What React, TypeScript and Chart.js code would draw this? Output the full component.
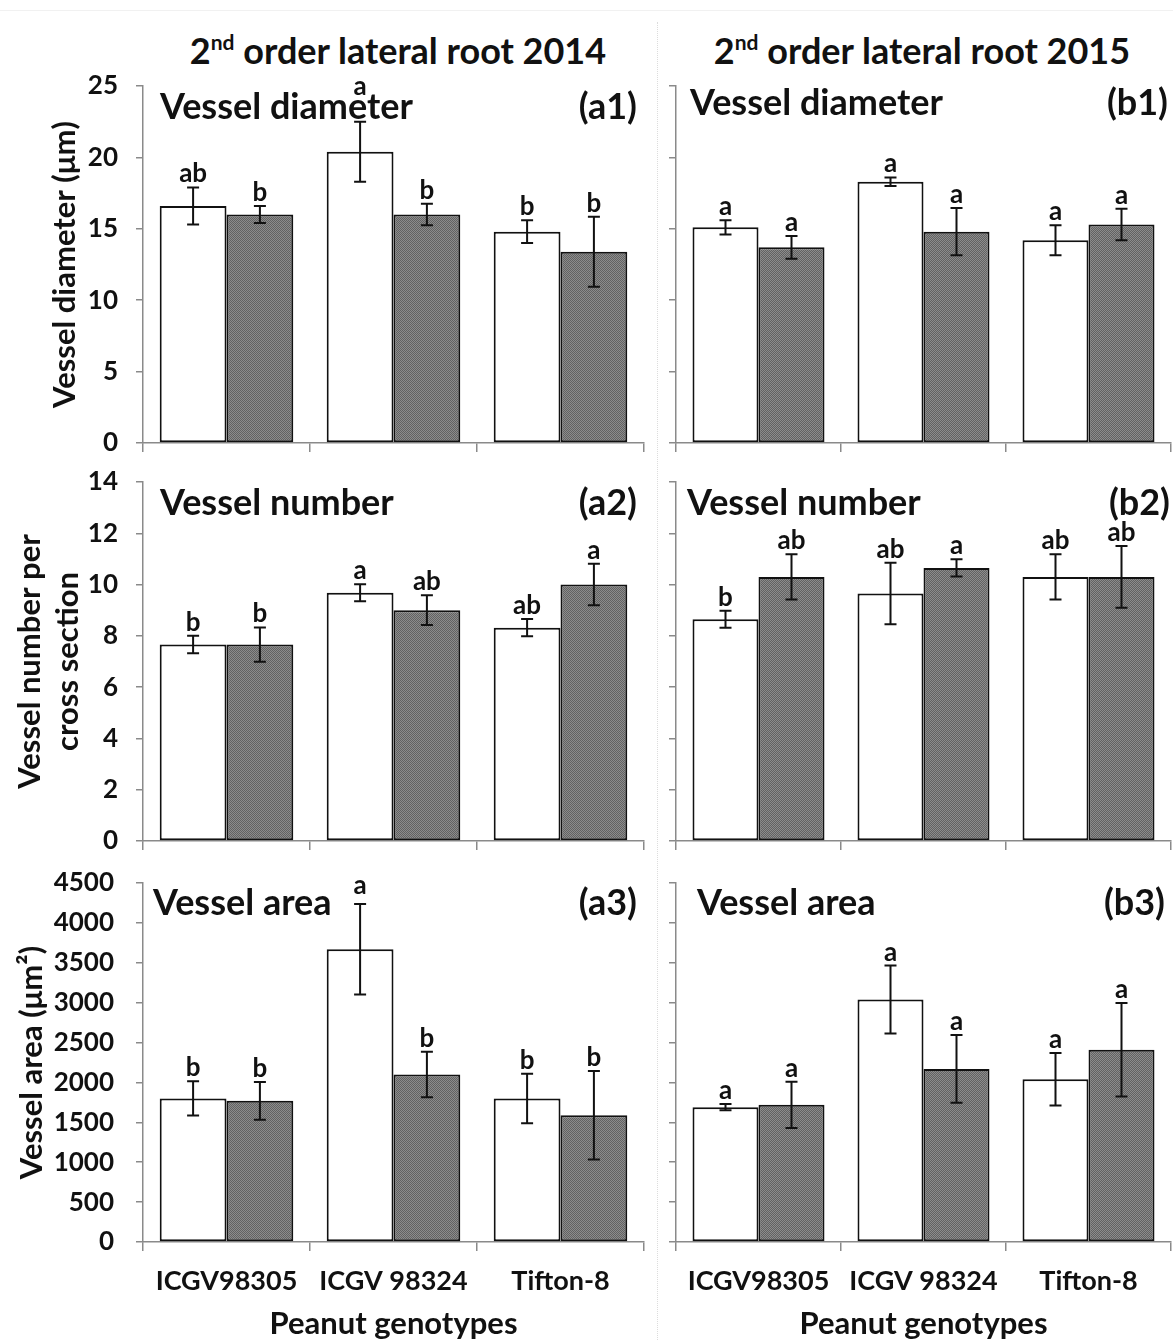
import React, { useEffect, useRef } from 'react';
import { Chart, registerables } from 'chart.js';

Chart.register(...registerables);

// ---------- data ----------
const categories = ['ICGV98305', 'ICGV 98324', 'Tifton-8'];

const diamTicks = [0, 5, 10, 15, 20, 25];
const numberTicks = [0, 2, 4, 6, 8, 10, 12, 14];
const areaTicks = [0, 500, 1000, 1500, 2000, 2500, 3000, 3500, 4000, 4500];

// (a1) vessel diameter 2014
const diam2014White = [16.6, 20.4, 14.8];
const diam2014WhiteErr = [1.3, 2.1, 0.8];
const diam2014Gray = [16.0, 16.0, 13.4];
const diam2014GrayErr = [0.6, 0.75, 2.45];
const diam2014WhiteLetters = ['ab', 'a', 'b'];
const diam2014GrayLetters = ['b', 'b', 'b'];

// (b1) vessel diameter 2015
const diam2015White = [15.1, 18.3, 14.2];
const diam2015WhiteErr = [0.5, 0.3, 1.05];
const diam2015Gray = [13.7, 14.8, 15.3];
const diam2015GrayErr = [0.8, 1.65, 1.1];
const diam2015WhiteLetters = ['a', 'a', 'a'];
const diam2015GrayLetters = ['a', 'a', 'a'];

// (a2) vessel number 2014
const num2014White = [7.66, 9.68, 8.32];
const num2014WhiteErr = [0.34, 0.33, 0.34];
const num2014Gray = [7.66, 9.0, 10.0];
const num2014GrayErr = [0.67, 0.58, 0.81];
const num2014WhiteLetters = ['b', 'a', 'ab'];
const num2014GrayLetters = ['b', 'ab', 'a'];

// (b2) vessel number 2015
const num2015White = [8.65, 9.65, 10.3];
const num2015WhiteErr = [0.33, 1.2, 0.88];
const num2015Gray = [10.3, 10.65, 10.3];
const num2015GrayErr = [0.88, 0.34, 1.2];
const num2015WhiteLetters = ['b', 'ab', 'ab'];
const num2015GrayLetters = ['ab', 'a', 'ab'];

// (a3) vessel area 2014
const area2014White = [1800, 3670, 1800];
const area2014WhiteErr = [215, 567, 310];
const area2014Gray = [1770, 2100, 1590];
const area2014GrayErr = [237, 285, 555];
const area2014WhiteLetters = ['b', 'a', 'b'];
const area2014GrayLetters = ['b', 'b', 'b'];

// (b3) vessel area 2015
const area2015White = [1690, 3040, 2040];
const area2015WhiteErr = [40, 425, 330];
const area2015Gray = [1720, 2170, 2410];
const area2015GrayErr = [290, 425, 585];
const area2015WhiteLetters = ['a', 'a', 'a'];
const area2015GrayLetters = ['a', 'a', 'a'];

// ---------- layout / style ----------
const FONT = 'Lato, "Open Sans", sans-serif';
const AXIS = '#8a8a8a';
const INK = '#111';

type Panel = {
  key: string;
  left: number; top: number; width: number; height: number;
  yWidth: number; padTop: number; padRight: number; xHeight: number;
  ticks: number[]; showYLabels: boolean; yTickPad: number;
  yTitle?: string | string[]; yTitlePad?: number;
  showXLabels: boolean;
  name: string; tag: string; nameDx: number; nameDy: number; tagDx: number;
  white: number[]; whiteErr: number[]; gray: number[]; grayErr: number[];
  whiteLetters: string[]; grayLetters: string[];
  lift?: Record<string, number>;
};

const LEFT_COL = { left: 0, width: 655, yWidth: 143, padRight: 11 };
const RIGHT_COL = { left: 655, width: 518, yWidth: 21, padRight: 2 };
const ROW1 = { top: 60, height: 400, padTop: 26, xHeight: 17 };
const ROW2 = { top: 460, height: 400, padTop: 22, xHeight: 19 };
const ROW3 = { top: 860, height: 480, padTop: 23, xHeight: 98 };

const panels: Panel[] = [
  {
    key: 'a1', ...LEFT_COL, ...ROW1, ticks: diamTicks, showYLabels: true, yTickPad: 18,
    yTitle: 'Vessel diameter (μm)', yTitlePad: 46, showXLabels: false,
    name: 'Vessel diameter', tag: '(a1)', nameDx: 17, nameDy: 21, tagDx: 7,
    white: diam2014White, whiteErr: diam2014WhiteErr, gray: diam2014Gray, grayErr: diam2014GrayErr,
    whiteLetters: diam2014WhiteLetters, grayLetters: diam2014GrayLetters, lift: { '0-1': 22 },
  },
  {
    key: 'b1', ...RIGHT_COL, ...ROW1, ticks: diamTicks, showYLabels: false, yTickPad: 0,
    showXLabels: false,
    name: 'Vessel diameter', tag: '(b1)', nameDx: 14, nameDy: 17, tagDx: 3,
    white: diam2015White, whiteErr: diam2015WhiteErr, gray: diam2015Gray, grayErr: diam2015GrayErr,
    whiteLetters: diam2015WhiteLetters, grayLetters: diam2015GrayLetters,
  },
  {
    key: 'a2', ...LEFT_COL, ...ROW2, ticks: numberTicks, showYLabels: true, yTickPad: 18,
    yTitle: ['Vessel number per', 'cross section'], yTitlePad: 11, showXLabels: false,
    name: 'Vessel number', tag: '(a2)', nameDx: 17, nameDy: 21, tagDx: 7,
    white: num2014White, whiteErr: num2014WhiteErr, gray: num2014Gray, grayErr: num2014GrayErr,
    whiteLetters: num2014WhiteLetters, grayLetters: num2014GrayLetters,
  },
  {
    key: 'b2', ...RIGHT_COL, ...ROW2, ticks: numberTicks, showYLabels: false, yTickPad: 0,
    showXLabels: false,
    name: 'Vessel number', tag: '(b2)', nameDx: 11, nameDy: 21, tagDx: 1,
    white: num2015White, whiteErr: num2015WhiteErr, gray: num2015Gray, grayErr: num2015GrayErr,
    whiteLetters: num2015WhiteLetters, grayLetters: num2015GrayLetters,
  },
  {
    key: 'a3', ...LEFT_COL, ...ROW3, ticks: areaTicks, showYLabels: true, yTickPad: 22,
    yTitle: 'Vessel area (μm²)', yTitlePad: 13, showXLabels: true,
    name: 'Vessel area', tag: '(a3)', nameDx: 10, nameDy: 20, tagDx: 7,
    white: area2014White, whiteErr: area2014WhiteErr, gray: area2014Gray, grayErr: area2014GrayErr,
    whiteLetters: area2014WhiteLetters, grayLetters: area2014GrayLetters, lift: { '0-1': 5 },
  },
  {
    key: 'b3', ...RIGHT_COL, ...ROW3, ticks: areaTicks, showYLabels: false, yTickPad: 0,
    showXLabels: true,
    name: 'Vessel area', tag: '(b3)', nameDx: 21, nameDy: 20, tagDx: 6,
    white: area2015White, whiteErr: area2015WhiteErr, gray: area2015Gray, grayErr: area2015GrayErr,
    whiteLetters: area2015WhiteLetters, grayLetters: area2015GrayLetters,
  },
];

function makeGrayPattern(): CanvasPattern | string {
  const c = document.createElement('canvas');
  c.width = 2; c.height = 2;
  const g = c.getContext('2d');
  if (!g) return '#7a7a7a';
  g.fillStyle = '#8c8c8c'; g.fillRect(0, 0, 2, 2);
  g.fillStyle = '#626262'; g.fillRect(0, 0, 1, 1); g.fillRect(1, 1, 1, 1);
  return g.createPattern(c, 'repeat') || '#7a7a7a';
}

function PanelChart({ p }: { p: Panel }) {
  const ref = useRef<HTMLCanvasElement | null>(null);
  useEffect(() => {
    const canvas = ref.current;
    if (!canvas) return;
    const annot = {
      id: 'annot' + p.key,
      beforeDatasetsDraw(chart: any) {
        const { ctx, chartArea } = chart;
        ctx.save();
        ctx.fillStyle = INK;
        ctx.font = `bold 36px ${FONT}`;
        ctx.textBaseline = 'middle';
        ctx.textAlign = 'left';
        ctx.fillText(p.name, chartArea.left + p.nameDx, chartArea.top + p.nameDy);
        ctx.textAlign = 'right';
        ctx.fillText(p.tag, chartArea.right - p.tagDx, chartArea.top + p.nameDy);
        ctx.restore();
      },
      afterDatasetsDraw(chart: any) {
        const { ctx } = chart;
        const yScale = chart.scales.y;
        const sets: [number[], string[]][] = [[p.whiteErr, p.whiteLetters], [p.grayErr, p.grayLetters]];
        sets.forEach(([errs, letters], di) => {
          const meta = chart.getDatasetMeta(di);
          meta.data.forEach((bar: any, j: number) => {
            const v = chart.data.datasets[di].data[j] as number;
            const yt = yScale.getPixelForValue(v + errs[j]);
            const yb = yScale.getPixelForValue(v - errs[j]);
            ctx.save();
            ctx.strokeStyle = INK;
            ctx.lineWidth = 2;
            ctx.beginPath();
            ctx.moveTo(bar.x, yt); ctx.lineTo(bar.x, yb);
            ctx.moveTo(bar.x - 6, yt); ctx.lineTo(bar.x + 6, yt);
            ctx.moveTo(bar.x - 6, yb); ctx.lineTo(bar.x + 6, yb);
            ctx.stroke();
            const lift = (p.lift && p.lift[`${di}-${j}`]) || 0;
            ctx.font = `bold 26px ${FONT}`;
            ctx.fillStyle = INK;
            ctx.textAlign = 'center';
            ctx.textBaseline = 'alphabetic';
            ctx.fillText(letters[j], bar.x, yt - 5 - lift);
            ctx.restore();
          });
        });
      },
    };
    const ticks = p.ticks;
    const chart = new Chart(canvas, {
      type: 'bar',
      data: {
        labels: categories,
        datasets: [
          {
            data: p.white, backgroundColor: '#ffffff', borderColor: INK, borderWidth: 2,
            borderSkipped: false, categoryPercentage: 0.8, barPercentage: 1.0,
          },
          {
            data: p.gray, backgroundColor: makeGrayPattern() as any, borderColor: INK, borderWidth: 2,
            borderSkipped: false, categoryPercentage: 0.8, barPercentage: 1.0,
          },
        ],
      },
      options: {
        responsive: false,
        animation: false,
        devicePixelRatio: 1,
        layout: { padding: { top: p.padTop, right: p.padRight, left: 0, bottom: 0 } },
        plugins: { legend: { display: false }, tooltip: { enabled: false }, title: { display: false } },
        events: [],
        scales: {
          x: {
            type: 'category',
            offset: true,
            grid: { offset: true, drawOnChartArea: false, drawTicks: true, tickLength: 9, color: AXIS, lineWidth: 1.5 },
            border: { display: true, color: AXIS, width: 1.5 },
            ticks: {
              display: p.showXLabels, color: INK, padding: 14,
              font: { family: FONT, size: 27, weight: 'bold' },
              maxRotation: 0, autoSkip: false,
            },
            title: {
              display: p.showXLabels, text: 'Peanut genotypes', color: INK,
              font: { family: FONT, size: 31, weight: 'bold', lineHeight: 1.0 },
              padding: { top: 0, bottom: 1 },
            },
            afterFit: (s: any) => {
              s.height = p.xHeight;
              s.paddingLeft = 0; s.paddingRight = 0;
            },
          },
          y: {
            min: ticks[0],
            max: ticks[ticks.length - 1],
            grid: { drawOnChartArea: false, drawTicks: true, tickLength: 7, color: AXIS, lineWidth: 1.5 },
            border: { display: true, color: AXIS, width: 1.5 },
            ticks: {
              display: p.showYLabels, color: INK, padding: p.yTickPad,
              stepSize: ticks[1] - ticks[0],
              font: { family: FONT, size: 26, weight: 'bold' },
              callback: (v: any) => String(v),
            },
            title: {
              display: !!p.yTitle, text: p.yTitle || '', color: INK,
              font: { family: FONT, size: 31, weight: 'bold', lineHeight: 1.23 },
              padding: { top: p.yTitlePad || 0, bottom: 0 },
            },
            afterFit: (s: any) => {
              s.width = p.yWidth;
              s.paddingTop = 0; s.paddingBottom = 0;
            },
          },
        },
      } as any,
      plugins: [annot],
    });
    return () => chart.destroy();
  }, [p]);
  return (
    <canvas
      ref={ref}
      width={p.width}
      height={p.height}
      style={{ position: 'absolute', left: p.left, top: p.top, width: p.width, height: p.height }}
    />
  );
}

const titleStyle: React.CSSProperties = {
  position: 'absolute', top: 26, width: 560, textAlign: 'center',
  fontFamily: FONT, fontWeight: 700, fontSize: 36, lineHeight: '48px', color: INK, whiteSpace: 'nowrap',
};
const supStyle: React.CSSProperties = { fontSize: 21, verticalAlign: 'top', lineHeight: '32px' };

export default function App() {
  return (
    <div style={{ position: 'absolute', left: 0, top: 0, width: 1173, height: 1340, background: '#fff', overflow: 'hidden' }}>
      <div style={{ position: 'absolute', left: 0, top: 10, width: 1173, borderTop: '1px solid #f1f1f1' }} />
      <div style={{ position: 'absolute', left: 657, top: 22, height: 1318, borderLeft: '1px dotted #dcdcdc' }} />
      <div style={{ ...titleStyle, left: 398 - 280 }}>
        2<sup style={supStyle}>nd</sup> order lateral root 2014
      </div>
      <div style={{ ...titleStyle, left: 922 - 280 }}>
        2<sup style={supStyle}>nd</sup> order lateral root 2015
      </div>
      {panels.map((p) => (
        <PanelChart key={p.key} p={p} />
      ))}
    </div>
  );
}
